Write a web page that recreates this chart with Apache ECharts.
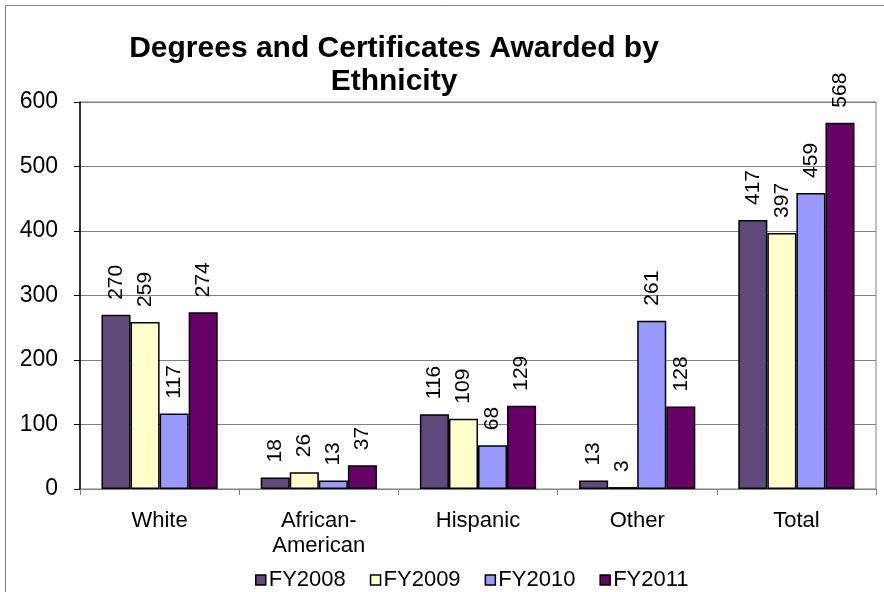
<!DOCTYPE html>
<html>
<head>
<meta charset="utf-8">
<script src="https://cdn.jsdelivr.net/npm/echarts@6/dist/echarts.min.js"></script>
<style>
  html, body { margin: 0; padding: 0; background: #fff; }
  #chart { width: 884px; height: 592px; }
</style>
</head>
<body>
<div id="chart"></div>
<script>
// Degrees and certificates awarded, grouped by ethnicity, per fiscal year
const categories = ['White', 'African-\nAmerican', 'Hispanic', 'Other', 'Total'];
const seriesNames = ['FY2008', 'FY2009', 'FY2010', 'FY2011'];
const fy2008 = [270, 18, 116, 13, 417];
const fy2009 = [259, 26, 109, 3, 397];
const fy2010 = [117, 13, 68, 261, 459];
const fy2011 = [274, 37, 129, 128, 568];
const yTicks = [0, 100, 200, 300, 400, 500, 600];

const seriesValues = [fy2008, fy2009, fy2010, fy2011];
const seriesColors = ['#604A7B', '#FFFFCC', '#9999FF', '#660066'];
const FONT = 'Liberation Sans, Arial, sans-serif';

const chart = echarts.init(document.getElementById('chart'), null, { renderer: 'canvas' });

chart.setOption({
  backgroundColor: '#ffffff',
  animation: false,
  title: {
    text: 'Degrees and Certificates Awarded by\nEthnicity',
    left: 394,
    top: 32,
    textAlign: 'center',
    padding: 0,
    textStyle: {
      fontFamily: FONT,
      fontWeight: 'bold',
      fontSize: 30,
      lineHeight: 33,
      color: '#000'
    }
  },
  graphic: [{
    type: 'rect',
    shape: { x: 5.5, y: 5.5, width: 900, height: 620 },
    style: { fill: 'none', stroke: '#808080', lineWidth: 1 },
    silent: true
  }],
  legend: {
    data: seriesNames,
    top: 564,
    left: 250,
    itemWidth: 10,
    itemHeight: 10,
    itemGap: 24,
    icon: 'rect',
    textStyle: { fontFamily: FONT, fontSize: 22, color: '#000', padding: [0, 0, 0, -2] },
    itemStyle: { borderColor: '#000', borderWidth: 1.5 }
  },
  grid: {
    left: 80,
    right: 8,
    top: 102,
    bottom: 103,
    show: true,
    borderColor: '#808080',
    borderWidth: 1,
    containLabel: false
  },
  xAxis: {
    type: 'category',
    data: categories,
    axisLine: { show: true, lineStyle: { color: '#808080', width: 1 } },
    axisTick: { show: true, length: 6, lineStyle: { color: '#808080' } },
    axisLabel: {
      fontFamily: FONT,
      fontSize: 22,
      color: '#000',
      margin: 19,
      lineHeight: 25,
      interval: 0
    }
  },
  yAxis: {
    type: 'value',
    min: yTicks[0],
    max: yTicks[yTicks.length - 1],
    interval: 100,
    axisLine: { show: true, lineStyle: { color: '#000', width: 1.5 } },
    axisTick: { show: true, length: 6, lineStyle: { color: '#000' } },
    axisLabel: {
      fontFamily: FONT,
      fontSize: 23,
      color: '#000',
      margin: 22
    },
    splitLine: { show: true, lineStyle: { color: '#808080', width: 1 } }
  },
  series: seriesNames.map((name, i) => ({
    name: name,
    type: 'bar',
    data: seriesValues[i],
    barGap: '0%',
    barCategoryGap: '27%',
    itemStyle: {
      color: seriesColors[i],
      borderColor: '#000',
      borderWidth: 1.5
    },
    label: {
      show: true,
      position: 'top',
      rotate: 90,
      align: 'left',
      verticalAlign: 'middle',
      distance: 15,
      fontFamily: FONT,
      fontSize: 21,
      color: '#000'
    }
  }))
});
</script>
</body>
</html>
